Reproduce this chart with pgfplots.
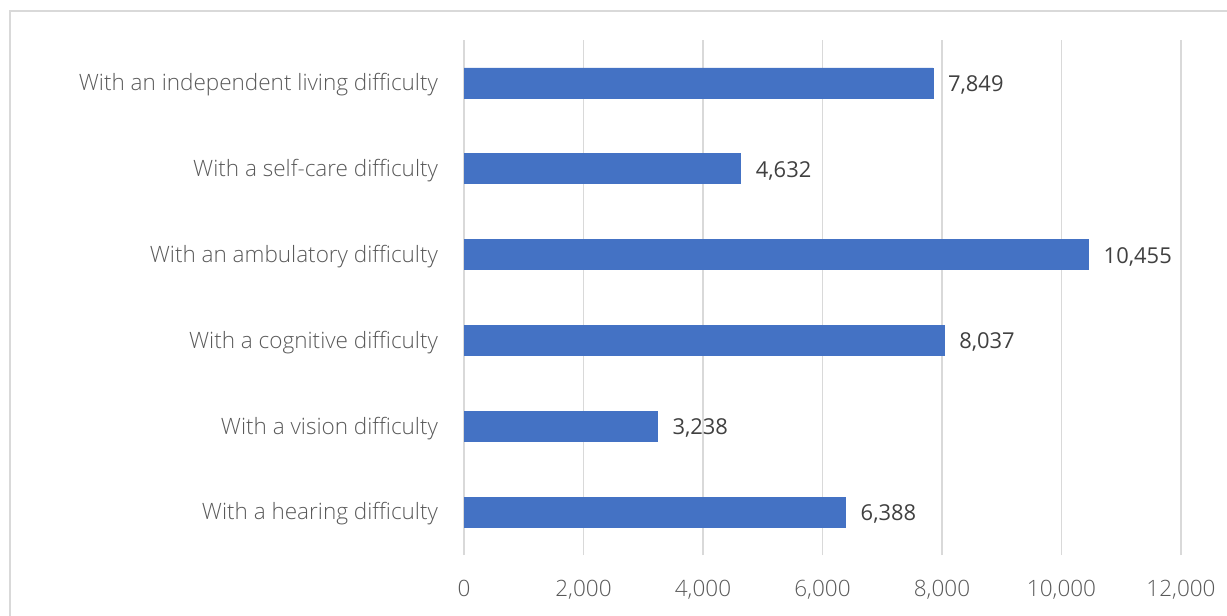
\documentclass[border=0pt]{standalone}
\usepackage{fontspec}
\setmainfont{Open Sans}[UprightFont=* Light, BoldFont=*]
\newfontfamily\valfont{Open Sans}
\usepackage{pgfplots}
\pgfplotsset{compat=1.18}
\definecolor{barblue}{HTML}{4472C4}
\definecolor{gridgray}{HTML}{D9D9D9}
\definecolor{labgray}{HTML}{595959}
\definecolor{valgray}{HTML}{404040}
\begin{document}
\begin{tikzpicture}
\useasboundingbox (0,0) rectangle (613.5bp,308bp);
\draw[gridgray, line width=1bp] (5bp,-5bp) -- (5bp,302.5bp) -- (620bp,302.5bp);
\begin{axis}[
    at={(232bp,30.5bp)}, anchor=south west,
    scale only axis,
    width=358.5bp, height=257.5bp,
    xbar, bar width=15bp,
    xmin=0, xmax=12000,
    ymin=-0.5, ymax=5.5,
    xtick={0,2000,...,12000},
    scaled x ticks=false,
    ytick={0,...,5},
    yticklabels={With a hearing difficulty, With a vision difficulty, With a cognitive difficulty, With an ambulatory difficulty, With a self-care difficulty, With an independent living difficulty},
    xmajorgrids, major grid style={gridgray, line width=0.75bp},
    axis line style={draw=none},
    major tick length=0pt,
    tick label style={font=\fontsize{11.3}{13}\selectfont, text=labgray},
    xticklabel style={yshift=-9bp},
    yticklabel style={xshift=-9.5bp, yshift=-1bp},
    /pgf/number format/assume math mode=true,
    /pgf/number format/1000 sep={,},
    nodes near coords,
    every node near coord/.append style={font=\valfont\fontsize{11}{13}\selectfont, text=valgray, xshift=4bp, yshift=-1bp},
    clip=false,
]
\addplot[fill=barblue, draw=barblue] coordinates {
    (6388,0) (3238,1) (8037,2) (10455,3) (4632,4) (7849,5)
};
\end{axis}
\end{tikzpicture}
\end{document}
